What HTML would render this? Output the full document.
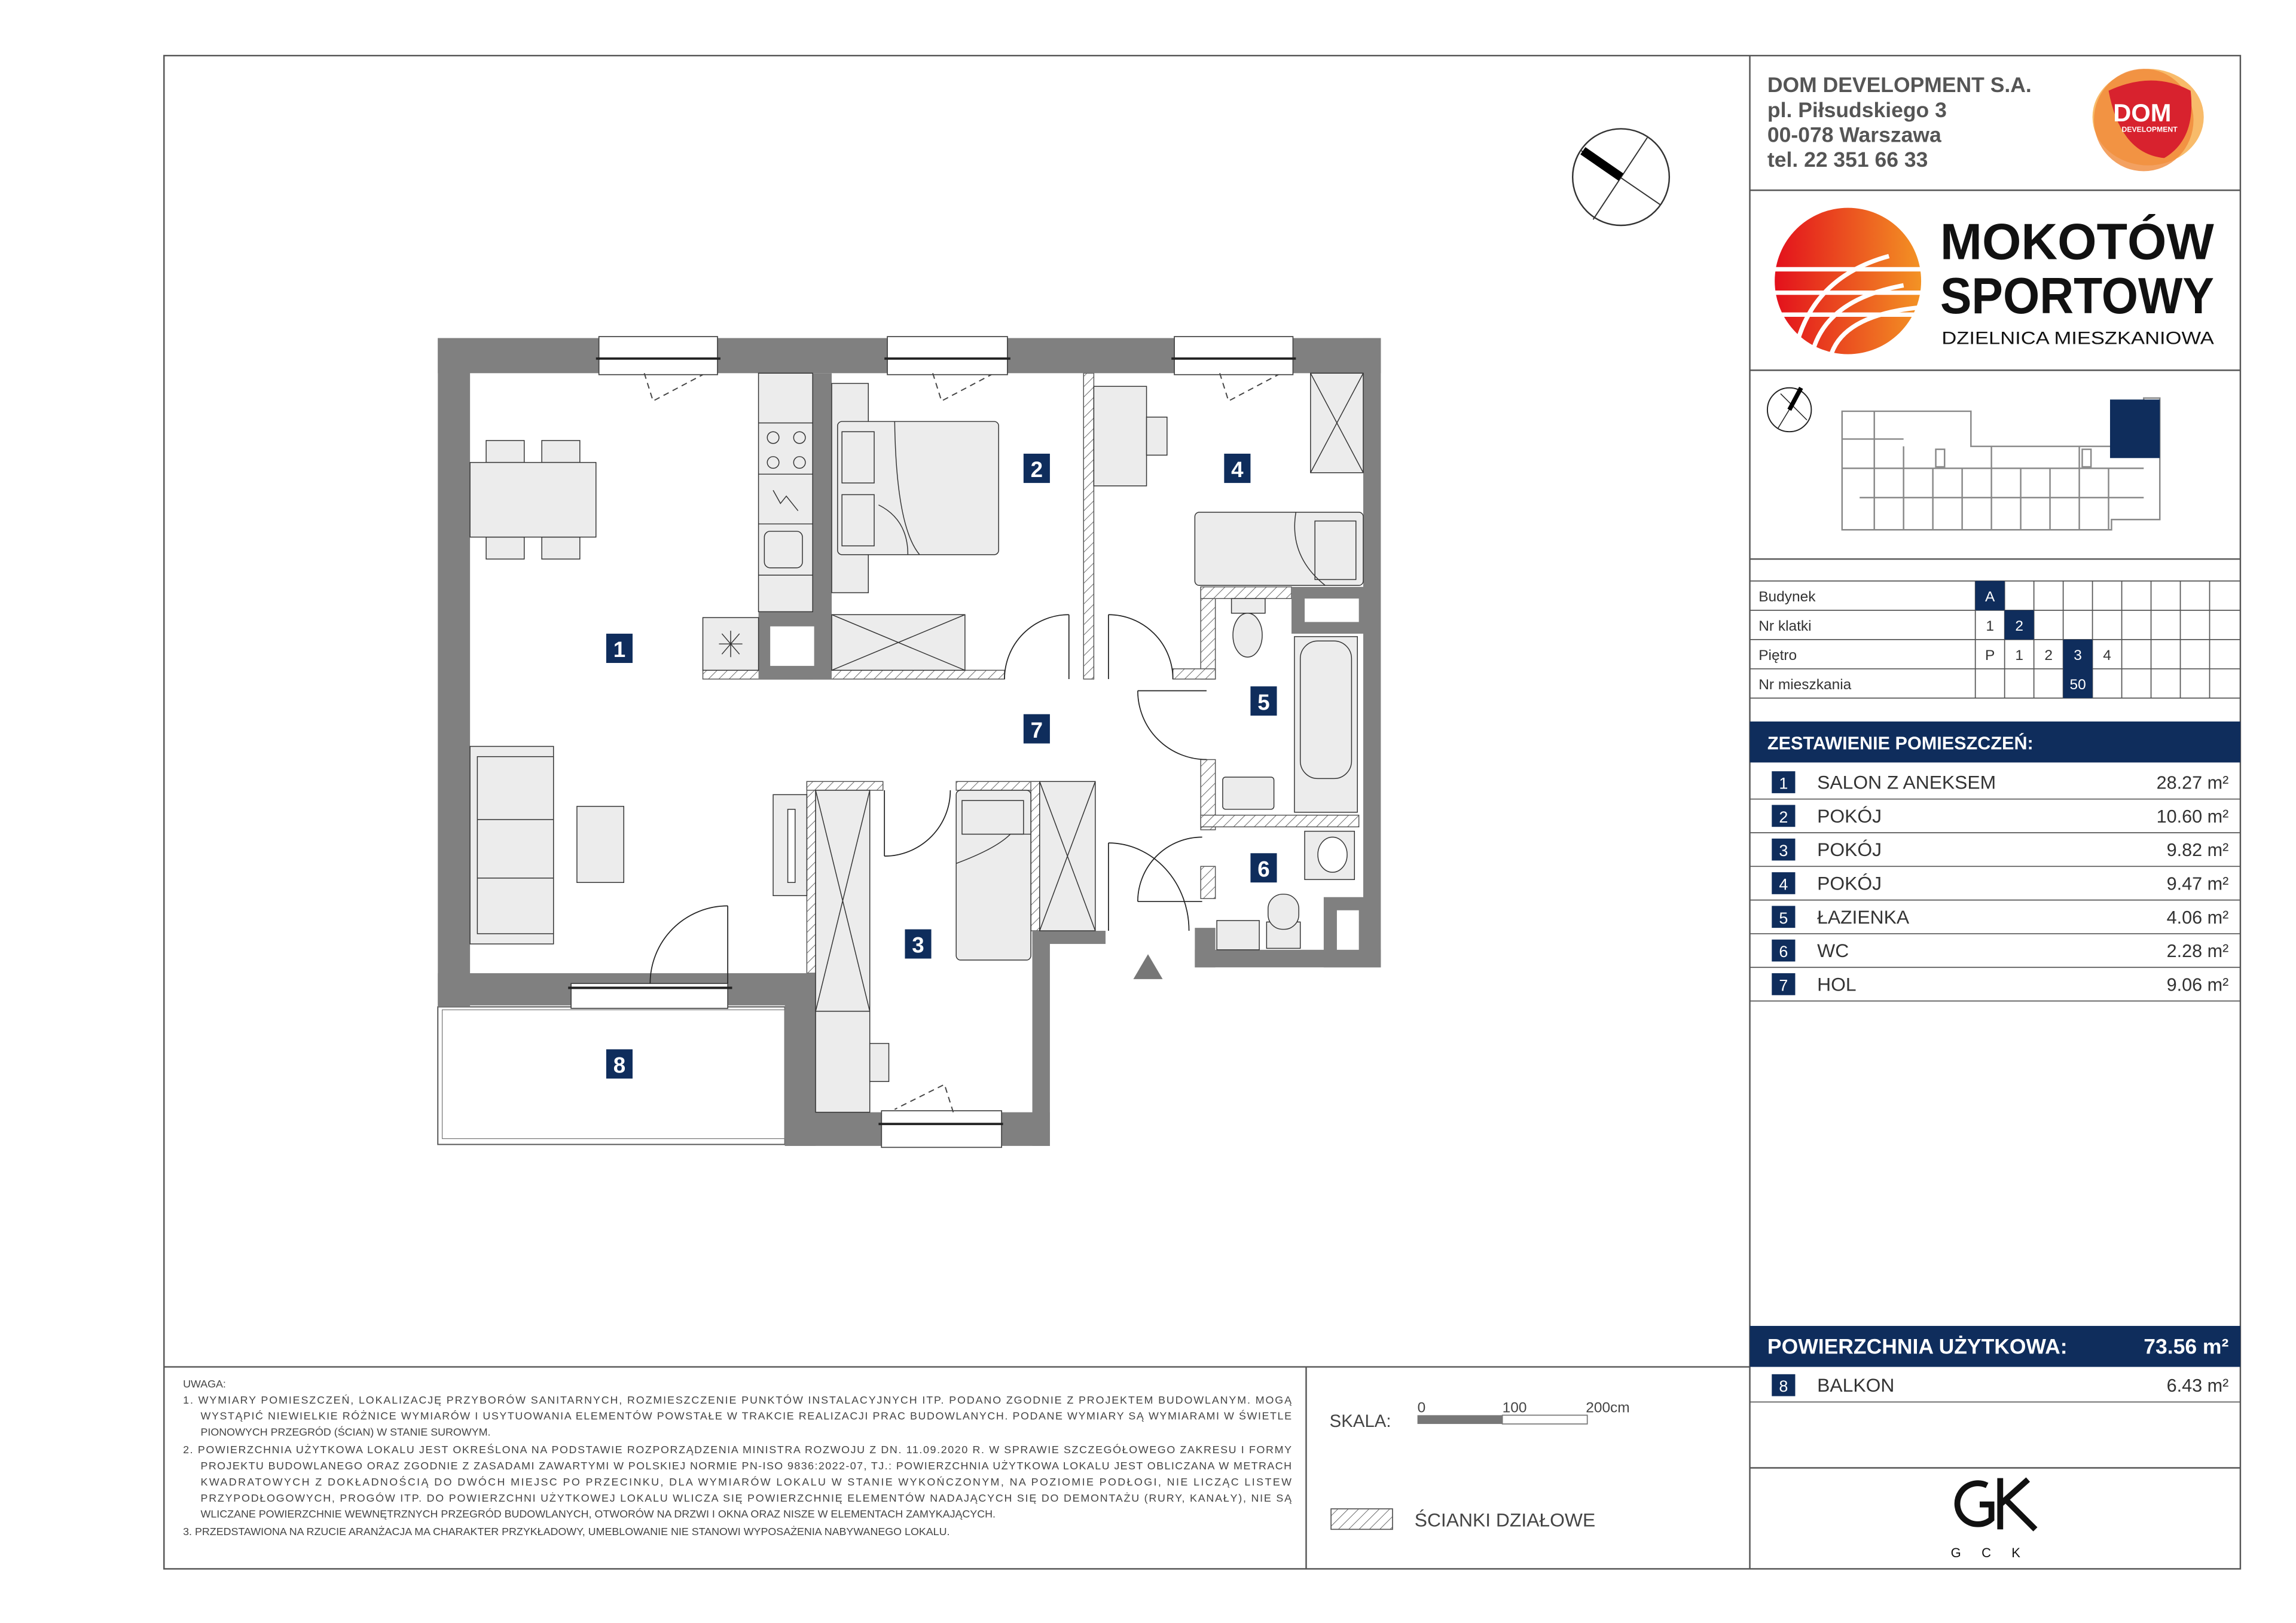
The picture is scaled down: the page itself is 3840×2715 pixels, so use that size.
<!DOCTYPE html>
<html><head><meta charset="utf-8">
<style>
html,body{margin:0;padding:0;background:#fff;}
svg{display:block;}
text{font-family:"Liberation Sans",sans-serif;}
</style></head>
<body>
<svg width="3840" height="2715" viewBox="0 0 1568 1109" preserveAspectRatio="none" xmlns="http://www.w3.org/2000/svg">
<defs>
<pattern id="h" width="5" height="5" patternUnits="userSpaceOnUse" patternTransform="rotate(45)">
<rect width="5" height="5" fill="#fff"/><line x1="0" y1="0" x2="0" y2="5" stroke="#555" stroke-width="0.7"/></pattern>
<linearGradient id="sph2" x1="0" x2="1"><stop offset="0" stop-color="#e3101c"/><stop offset="1" stop-color="#f39324"/></linearGradient>
</defs>
<rect width="1568" height="1109" fill="#fff"/>
<g fill="none" stroke="#555" stroke-width="1">
<rect x="112" y="38" width="1418" height="1034"/>
<line x1="1195" y1="38" x2="1195" y2="1072"/>
<line x1="112" y1="934" x2="1195" y2="934"/>
<line x1="892" y1="934" x2="892" y2="1072"/>
<line x1="1195" y1="130" x2="1530" y2="130"/>
<line x1="1195" y1="253" x2="1530" y2="253"/>
<line x1="1195" y1="382" x2="1530" y2="382"/>
<line x1="1195" y1="1003" x2="1530" y2="1003"/>
</g>
<g fill="#555" font-weight="bold" font-size="14.5">
<text x="1207" y="63">DOM DEVELOPMENT S.A.</text>
<text x="1207" y="80">pl. Piłsudskiego 3</text>
<text x="1207" y="97">00-078 Warszawa</text>
<text x="1207" y="114">tel. 22 351 66 33</text>
</g>
<ellipse cx="1467" cy="80" rx="38" ry="33" fill="#f7b45a" opacity="0.9"/>
<ellipse cx="1464" cy="82" rx="34" ry="35" fill="#f08a3a" opacity="0.8"/>
<path d="M1440,62 Q1470,48 1496,62 Q1500,95 1478,108 Q1448,105 1440,62Z" fill="#d8222e"/>
<text x="1463" y="83" font-size="17" font-weight="bold" fill="#fff" text-anchor="middle">DOM</text>
<text x="1468" y="90" font-size="5" font-weight="bold" fill="#fff" text-anchor="middle">DEVELOPMENT</text>
<ellipse cx="1262" cy="192" rx="50" ry="50" fill="url(#sph2)"/>
<g stroke="#fff" stroke-width="3" fill="none">
<line x1="1212" y1="184" x2="1312" y2="184"/>
<line x1="1212" y1="200" x2="1312" y2="200"/>
<line x1="1212" y1="215" x2="1312" y2="215"/>
<path d="M1225,244 Q1235,190 1290,175"/>
<path d="M1237,244 Q1245,205 1300,195"/>
<path d="M1250,244 Q1258,215 1312,210"/>
</g>
<text x="1325" y="177" font-size="35" font-weight="bold" fill="#111" textLength="187" lengthAdjust="spacingAndGlyphs">MOKOTÓW</text>
<text x="1325" y="214" font-size="35" font-weight="bold" fill="#111" textLength="187" lengthAdjust="spacingAndGlyphs">SPORTOWY</text>
<text x="1326" y="235" font-size="12" fill="#111" textLength="186" lengthAdjust="spacingAndGlyphs">DZIELNICA MIESZKANIOWA</text>
<ellipse cx="1222" cy="280" rx="15" ry="15" fill="none" stroke="#222" stroke-width="0.8"/>
<line x1="1216" y1="269" x2="1234" y2="287" stroke="#222" stroke-width="0.6"/>
<line x1="1228" y1="270" x2="1214" y2="293" stroke="#222" stroke-width="0.6"/>
<line x1="1222" y1="280" x2="1230" y2="265" stroke="#000" stroke-width="3"/>
<g fill="none" stroke="#888" stroke-width="1">
<path d="M1258,281 L1346,281 L1346,305 L1464,305 L1464,272 L1475,272 L1475,355 L1442,355 L1442,362 L1258,362 Z"/>
<line x1="1258" y1="300" x2="1300" y2="300"/>
<line x1="1258" y1="320" x2="1464" y2="320"/>
<line x1="1270" y1="340" x2="1464" y2="340"/>
<line x1="1300" y1="305" x2="1300" y2="362"/>
<line x1="1320" y1="320" x2="1320" y2="362"/>
<line x1="1340" y1="320" x2="1340" y2="362"/>
<line x1="1360" y1="305" x2="1360" y2="362"/>
<line x1="1380" y1="320" x2="1380" y2="362"/>
<line x1="1400" y1="320" x2="1400" y2="362"/>
<line x1="1420" y1="305" x2="1420" y2="362"/>
<line x1="1440" y1="320" x2="1440" y2="362"/>
<line x1="1280" y1="281" x2="1280" y2="362"/>
<rect x="1322" y="307" width="6" height="12"/><rect x="1422" y="307" width="6" height="12"/>
</g>
<rect x="1441" y="273" width="34" height="40" fill="#0f2d5c"/>
<g stroke="#555" stroke-width="0.7" fill="none">
<line x1="1195" y1="397" x2="1530" y2="397"/>
<line x1="1195" y1="417" x2="1530" y2="417"/>
<line x1="1195" y1="437" x2="1530" y2="437"/>
<line x1="1195" y1="457" x2="1530" y2="457"/>
<line x1="1195" y1="477" x2="1530" y2="477"/>
<line x1="1349" y1="397" x2="1349" y2="477"/><line x1="1369" y1="397" x2="1369" y2="477"/>
<line x1="1389" y1="397" x2="1389" y2="477"/><line x1="1409" y1="397" x2="1409" y2="477"/>
<line x1="1429" y1="397" x2="1429" y2="477"/><line x1="1449" y1="397" x2="1449" y2="477"/>
<line x1="1469" y1="397" x2="1469" y2="477"/><line x1="1489" y1="397" x2="1489" y2="477"/>
<line x1="1509" y1="397" x2="1509" y2="477"/>
</g>
<rect x="1349" y="397" width="20" height="20" fill="#0f2d5c"/>
<rect x="1369" y="417" width="20" height="20" fill="#0f2d5c"/>
<rect x="1409" y="437" width="20" height="40" fill="#0f2d5c"/>
<g font-size="10" fill="#333">
<text x="1201" y="411">Budynek</text><text x="1201" y="431">Nr klatki</text>
<text x="1201" y="451">Piętro</text><text x="1201" y="471">Nr mieszkania</text>
</g>
<g font-size="10" text-anchor="middle" fill="#333">
<text x="1359" y="411" fill="#fff">A</text>
<text x="1359" y="431">1</text><text x="1379" y="431" fill="#fff">2</text>
<text x="1359" y="451">P</text><text x="1379" y="451">1</text><text x="1399" y="451">2</text>
<text x="1419" y="451" fill="#fff">3</text><text x="1439" y="451">4</text>
<text x="1419" y="471" fill="#fff">50</text>
</g>
<rect x="1195" y="493" width="335" height="28" fill="#0f2d5c"/>
<text x="1207" y="512" font-size="12.5" font-weight="bold" fill="#fff">ZESTAWIENIE POMIESZCZEŃ:</text>
<g stroke="#555" stroke-width="0.7">
<line x1="1195" y1="546" x2="1530" y2="546"/><line x1="1195" y1="569" x2="1530" y2="569"/>
<line x1="1195" y1="592" x2="1530" y2="592"/><line x1="1195" y1="615" x2="1530" y2="615"/>
<line x1="1195" y1="638" x2="1530" y2="638"/><line x1="1195" y1="661" x2="1530" y2="661"/>
<line x1="1195" y1="684" x2="1530" y2="684"/><line x1="1195" y1="958" x2="1530" y2="958"/>
</g>
<g fill="#0f2d5c">
<rect x="1210" y="527" width="16" height="15"/><rect x="1210" y="550" width="16" height="15"/>
<rect x="1210" y="573" width="16" height="15"/><rect x="1210" y="596" width="16" height="15"/>
<rect x="1210" y="619" width="16" height="15"/><rect x="1210" y="642" width="16" height="15"/>
<rect x="1210" y="665" width="16" height="15"/><rect x="1210" y="939" width="16" height="15"/>
</g>
<g font-size="11" fill="#fff" text-anchor="middle">
<text x="1218" y="539">1</text><text x="1218" y="562">2</text><text x="1218" y="585">3</text>
<text x="1218" y="608">4</text><text x="1218" y="631">5</text><text x="1218" y="654">6</text>
<text x="1218" y="677">7</text><text x="1218" y="951">8</text>
</g>
<g font-size="13" fill="#333">
<text x="1241" y="539">SALON Z ANEKSEM</text><text x="1241" y="562">POKÓJ</text>
<text x="1241" y="585">POKÓJ</text><text x="1241" y="608">POKÓJ</text>
<text x="1241" y="631">ŁAZIENKA</text><text x="1241" y="654">WC</text>
<text x="1241" y="677">HOL</text><text x="1241" y="951">BALKON</text>
</g>
<g font-size="12.5" fill="#333" text-anchor="end">
<text x="1522" y="539">28.27 m²</text><text x="1522" y="562">10.60 m²</text>
<text x="1522" y="585">9.82 m²</text><text x="1522" y="608">9.47 m²</text>
<text x="1522" y="631">4.06 m²</text><text x="1522" y="654">2.28 m²</text>
<text x="1522" y="677">9.06 m²</text><text x="1522" y="951">6.43 m²</text>
</g>
<rect x="1195" y="906" width="335" height="28" fill="#0f2d5c"/>
<text x="1207" y="925" font-size="14.5" font-weight="bold" fill="#fff">POWIERZCHNIA UŻYTKOWA:</text>
<text x="1522" y="925" font-size="14.5" font-weight="bold" fill="#fff" text-anchor="end">73.56 m²</text>
<path d="M1357,1015 A14,14 0 1 0 1360,1038 L1360,1028 L1352,1028" fill="none" stroke="#111" stroke-width="4"/>
<path d="M1366,1010 L1366,1045 M1366,1028 L1385,1011 M1370,1025 L1390,1045" fill="none" stroke="#111" stroke-width="4"/>
<text x="1363" y="1064" font-size="9" fill="#111" text-anchor="middle" letter-spacing="14">GCK</text>
<g font-size="7.3" fill="#444" lengthAdjust="spacing">
<text x="125" y="948">UWAGA:</text>
<text x="125" y="959" textLength="757">1.   WYMIARY POMIESZCZEŃ, LOKALIZACJĘ PRZYBORÓW SANITARNYCH, ROZMIESZCZENIE PUNKTÓW INSTALACYJNYCH ITP. PODANO ZGODNIE Z PROJEKTEM BUDOWLANYM. MOGĄ</text>
<text x="137" y="970" textLength="745">WYSTĄPIĆ NIEWIELKIE RÓŻNICE WYMIARÓW I USYTUOWANIA ELEMENTÓW POWSTAŁE W TRAKCIE REALIZACJI PRAC BUDOWLANYCH. PODANE WYMIARY SĄ WYMIARAMI W ŚWIETLE</text>
<text x="137" y="981">PIONOWYCH PRZEGRÓD (ŚCIAN) W STANIE SUROWYM.</text>
<text x="125" y="993" textLength="757">2.   POWIERZCHNIA UŻYTKOWA LOKALU JEST OKREŚLONA NA PODSTAWIE ROZPORZĄDZENIA MINISTRA ROZWOJU Z DN. 11.09.2020 R. W SPRAWIE SZCZEGÓŁOWEGO ZAKRESU I FORMY</text>
<text x="137" y="1004" textLength="745">PROJEKTU BUDOWLANEGO ORAZ ZGODNIE Z ZASADAMI ZAWARTYMI W POLSKIEJ NORMIE PN-ISO 9836:2022-07, TJ.: POWIERZCHNIA UŻYTKOWA LOKALU JEST OBLICZANA W METRACH</text>
<text x="137" y="1015" textLength="745">KWADRATOWYCH Z DOKŁADNOŚCIĄ DO DWÓCH MIEJSC PO PRZECINKU, DLA WYMIARÓW LOKALU W STANIE WYKOŃCZONYM, NA POZIOMIE PODŁOGI, NIE LICZĄC LISTEW</text>
<text x="137" y="1026" textLength="745">PRZYPODŁOGOWYCH, PROGÓW ITP. DO POWIERZCHNI UŻYTKOWEJ LOKALU WLICZA SIĘ POWIERZCHNIĘ ELEMENTÓW NADAJĄCYCH SIĘ DO DEMONTAŻU (RURY, KANAŁY), NIE SĄ</text>
<text x="137" y="1037">WLICZANE POWIERZCHNIE WEWNĘTRZNYCH PRZEGRÓD BUDOWLANYCH, OTWORÓW NA DRZWI I OKNA ORAZ NISZE W ELEMENTACH ZAMYKAJĄCYCH.</text>
<text x="125" y="1049">3.   PRZEDSTAWIONA NA RZUCIE ARANŻACJA MA CHARAKTER PRZYKŁADOWY, UMEBLOWANIE NIE STANOWI WYPOSAŻENIA NABYWANEGO LOKALU.</text>
</g>
<text x="908" y="975" font-size="12" fill="#444">SKALA:</text>
<g font-size="10" fill="#444"><text x="968" y="965">0</text><text x="1026" y="965">100</text><text x="1083" y="965">200cm</text></g>
<rect x="968" y="967" width="58" height="6" fill="#777"/>
<rect x="1026" y="967" width="58" height="6" fill="#fff" stroke="#777" stroke-width="0.7"/>
<rect x="909" y="1031" width="42" height="14" fill="url(#h)" stroke="#555" stroke-width="0.7"/>
<text x="966" y="1043" font-size="13" fill="#444">ŚCIANKI DZIAŁOWE</text>
<circle cx="1107" cy="121" r="33" fill="none" stroke="#333" stroke-width="1"/>
<line x1="1080" y1="103" x2="1134" y2="140" stroke="#333" stroke-width="0.8"/>
<line x1="1125" y1="94" x2="1088" y2="150" stroke="#333" stroke-width="0.8"/>
<line x1="1081" y1="103" x2="1107" y2="121" stroke="#000" stroke-width="6"/>

<rect x="299" y="688" width="237" height="94" fill="#fff" stroke="#555" stroke-width="0.8"/>
<rect x="302" y="690" width="234" height="88" fill="none" stroke="#777" stroke-width="0.5"/>
<g fill="url(#h)" stroke="#555" stroke-width="0.6">
<rect x="480" y="458" width="206" height="6"/>
<rect x="740" y="255" width="7" height="209"/>
<rect x="820" y="401" width="10" height="63"/>
<rect x="820" y="401" width="62" height="8"/>
<rect x="801" y="457" width="29" height="7"/>
<rect x="820" y="519" width="10" height="48"/>
<rect x="820" y="557" width="108" height="8"/>
<rect x="551" y="534" width="6" height="131"/>
<rect x="551" y="534" width="52" height="6"/>
<rect x="653" y="534" width="57" height="6"/>
<rect x="704" y="534" width="6" height="102"/>
<rect x="820" y="592" width="10" height="22"/>
</g>
<g fill="#808080">
<rect x="299" y="231" width="644" height="24"/>
<rect x="299" y="231" width="22" height="457"/>
<rect x="931" y="231" width="12" height="430"/>
<rect x="299" y="665" width="258" height="22"/>
<rect x="536" y="665" width="21" height="118"/>
<rect x="536" y="760" width="181" height="23"/>
<rect x="705" y="636" width="12" height="147"/>
<rect x="705" y="636" width="50" height="9"/>
<rect x="816" y="649" width="127" height="12"/>
<rect x="816" y="634" width="14" height="27"/>
<rect x="555" y="255" width="13" height="209"/>
<rect x="518" y="418" width="50" height="46"/>
<rect x="882" y="401" width="49" height="32"/>
<rect x="904" y="613" width="27" height="48"/>
</g>
<g fill="#fff">
<rect x="526" y="428" width="30" height="27"/>
<rect x="891" y="409" width="37" height="16"/>
<rect x="913" y="622" width="15" height="27"/>
</g>
<g fill="#fff" stroke="#444" stroke-width="0.7">
<rect x="409" y="230" width="81" height="26"/>
<rect x="606" y="230" width="82" height="26"/>
<rect x="802" y="230" width="81" height="26"/>
<rect x="390" y="672" width="107" height="17"/>
<rect x="602" y="759" width="82" height="25"/>
</g>
<g stroke="#222" stroke-width="1.6">
<line x1="407" y1="245" x2="492" y2="245"/><line x1="604" y1="245" x2="690" y2="245"/>
<line x1="800" y1="245" x2="885" y2="245"/><line x1="388" y1="675" x2="500" y2="675"/>
<line x1="600" y1="768" x2="685" y2="768"/>
</g>
<g fill="none" stroke="#444" stroke-width="0.8" stroke-dasharray="4,3">
<path d="M440,255 L446,274 L480,256"/><path d="M637,255 L643,274 L677,256"/>
<path d="M833,255 L839,274 L873,256"/><path d="M651,760 L645,741 L611,758"/>
</g>
<g fill="#ececec" stroke="#333" stroke-width="0.6">
<rect x="332" y="301" width="26" height="15"/><rect x="370" y="301" width="26" height="15"/>
<rect x="332" y="367" width="26" height="15"/><rect x="370" y="367" width="26" height="15"/>
<rect x="321" y="316" width="86" height="51"/>
<rect x="518" y="255" width="37" height="163"/>
<rect x="480" y="422" width="38" height="36"/>
<rect x="568" y="262" width="25" height="143"/>
<rect x="572" y="288" width="110" height="91" rx="3"/>
<rect x="575" y="295" width="22" height="35"/><rect x="575" y="338" width="22" height="35"/>
<rect x="568" y="420" width="91" height="38"/>
<rect x="747" y="264" width="36" height="68"/><rect x="783" y="285" width="14" height="26"/>
<rect x="895" y="255" width="36" height="68"/>
<rect x="816" y="350" width="115" height="50" rx="3"/>
<rect x="898" y="356" width="28" height="40"/>
<rect x="841" y="409" width="23" height="10"/>
<ellipse cx="852" cy="434" rx="10" ry="15"/>
<rect x="884" y="435" width="43" height="120"/>
<rect x="888" y="438" width="35" height="94" rx="12"/>
<rect x="835" y="531" width="35" height="22" rx="2"/>
<rect x="891" y="568" width="34" height="33"/>
<ellipse cx="910" cy="584" rx="10" ry="12" fill="#fff"/>
<rect x="865" y="630" width="23" height="18"/>
<rect x="866" y="611" width="21" height="24" rx="10"/>
<rect x="831" y="629" width="29" height="20"/>
<rect x="557" y="540" width="37" height="151"/>
<rect x="557" y="691" width="37" height="69"/>
<rect x="594" y="713" width="13" height="26"/>
<rect x="653" y="540" width="51" height="116" rx="3"/>
<rect x="657" y="547" width="42" height="23"/>
<rect x="710" y="534" width="38" height="102"/>
<rect x="321" y="510" width="57" height="135"/>
<rect x="326" y="517" width="52" height="121"/>
<rect x="394" y="551" width="32" height="52"/>
<rect x="528" y="543" width="23" height="69"/>
<rect x="538" y="553" width="5" height="50" fill="#fff"/>
</g>
<g fill="none" stroke="#333" stroke-width="0.6">
<line x1="518" y1="289" x2="555" y2="289"/><line x1="518" y1="324" x2="555" y2="324"/>
<line x1="518" y1="358" x2="555" y2="358"/><line x1="518" y1="393" x2="555" y2="393"/>
<circle cx="528" cy="299" r="4"/><circle cx="546" cy="299" r="4"/>
<circle cx="528" cy="316" r="4"/><circle cx="546" cy="316" r="4"/>
<path d="M528,335 L533,344 L537,339 L545,349"/>
<rect x="522" y="363" width="26" height="25" rx="4"/>
<path d="M493,433 L505,447 M505,433 L493,447 M499,431 L499,449 M491,440 L507,440"/>
<line x1="568" y1="420" x2="659" y2="458"/><line x1="659" y1="420" x2="568" y2="458"/>
<line x1="895" y1="255" x2="931" y2="323"/><line x1="931" y1="255" x2="895" y2="323"/>
<line x1="710" y1="534" x2="748" y2="636"/><line x1="748" y1="534" x2="710" y2="636"/>
<line x1="557" y1="540" x2="594" y2="691"/><line x1="594" y1="540" x2="557" y2="691"/>
<line x1="326" y1="560" x2="378" y2="560"/><line x1="326" y1="600" x2="378" y2="600"/>
<path d="M611,288 Q612,360 628,379"/><path d="M600,345 Q620,355 620,379"/>
<path d="M885,350 Q880,380 905,400"/>
<path d="M653,590 Q680,580 690,570 L704,570"/>
</g>
<g fill="none" stroke="#222" stroke-width="0.7">
<line x1="497" y1="619" x2="497" y2="672"/><path d="M444,672 A53,53 0 0 1 497,619"/>
<line x1="730" y1="420" x2="730" y2="464"/><path d="M686,464 A44,44 0 0 1 730,420"/>
<line x1="757" y1="420" x2="757" y2="464"/><path d="M757,420 A44,44 0 0 1 801,464"/>
<line x1="777" y1="472" x2="824" y2="472"/><path d="M777,472 A47,47 0 0 0 824,519"/>
<line x1="604" y1="540" x2="604" y2="585"/><path d="M604,585 A45,45 0 0 0 649,540"/>
<line x1="777" y1="616" x2="821" y2="616"/><path d="M777,616 A44,44 0 0 1 821,572"/>
<line x1="757" y1="576" x2="757" y2="636"/><path d="M757,576 A55,60 0 0 1 812,636"/>
</g>
<polygon points="774,669 784,652 794,669" fill="#777"/>
<g fill="#0f2d5c">
<rect x="414" y="433" width="18" height="20"/><rect x="699" y="310" width="18" height="20"/>
<rect x="836" y="310" width="18" height="20"/><rect x="854" y="469" width="18" height="20"/>
<rect x="699" y="488" width="18" height="20"/><rect x="854" y="583" width="18" height="20"/>
<rect x="618" y="635" width="18" height="20"/><rect x="414" y="717" width="18" height="20"/>
</g>
<g fill="#fff" font-size="15" font-weight="bold" text-anchor="middle">
<text x="423" y="449">1</text><text x="708" y="326">2</text><text x="845" y="326">4</text>
<text x="863" y="485">5</text><text x="708" y="504">7</text><text x="863" y="599">6</text>
<text x="627" y="651">3</text><text x="423" y="733">8</text>
</g>
</svg>
</body></html>
